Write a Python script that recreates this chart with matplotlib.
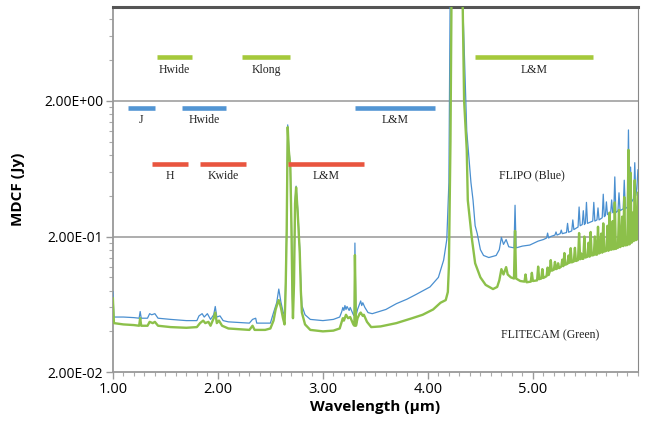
import matplotlib
matplotlib.use("Agg")
import matplotlib.pyplot as plt
from matplotlib.ticker import FixedLocator, MultipleLocator, NullFormatter

# FLIPO (blue) MDCF spectrum
blue_wl = [1.00, 1.01, 1.10, 1.20, 1.25, 1.26, 1.27, 1.33, 1.35, 1.37, 1.40, 1.43,
           1.55, 1.70, 1.80, 1.82, 1.85, 1.87, 1.90, 1.93, 1.96, 1.975, 1.99, 2.02,
           2.05, 2.10, 2.30, 2.33, 2.36, 2.37, 2.50, 2.53, 2.56, 2.58, 2.60, 2.62,
           2.635, 2.645, 2.655, 2.665, 2.675, 2.69, 2.70, 2.71, 2.715, 2.725, 2.735,
           2.745, 2.76, 2.78, 2.79, 2.80, 2.83, 2.88, 3.00, 3.10, 3.16, 3.18, 3.19,
           3.20, 3.21, 3.22, 3.23, 3.25, 3.26, 3.29, 3.30, 3.305, 3.315, 3.33, 3.35,
           3.36, 3.37, 3.38, 3.40, 3.43, 3.47, 3.60, 3.70, 3.80, 3.89, 4.02, 4.10,
           4.15, 4.18, 4.20, 4.212, 4.33, 4.37, 4.39, 4.41, 4.43, 4.45, 4.47, 4.50,
           4.53, 4.58, 4.65, 4.68, 4.70, 4.72, 4.745, 4.77, 4.82, 4.83, 4.84, 4.90,
           4.97, 5.05, 5.10, 5.13, 5.14, 5.15, 5.17, 5.21, 5.22, 5.23, 5.26, 5.27,
           5.28, 5.32, 5.33, 5.34, 5.37, 5.38, 5.39, 5.43, 5.44, 5.45, 5.47, 5.48,
           5.49, 5.50, 5.51, 5.52, 5.57, 5.58, 5.59, 5.61, 5.62, 5.63, 5.66, 5.67,
           5.68, 5.69, 5.70, 5.71, 5.74, 5.75, 5.76, 5.77, 5.78, 5.79, 5.81, 5.82,
           5.83, 5.86, 5.87, 5.88, 5.90, 5.91, 5.92, 5.93, 5.94, 5.96, 5.97, 5.98,
           5.99, 6.00]
blue_val = [0.078, 0.051, 0.051, 0.0505, 0.050, 0.056, 0.050, 0.050, 0.054, 0.053, 0.054, 0.050,
            0.049, 0.048, 0.048, 0.052, 0.054, 0.051, 0.054, 0.049, 0.053, 0.061, 0.051, 0.052,
            0.048, 0.047, 0.046, 0.049, 0.050, 0.046, 0.046, 0.055, 0.065, 0.082, 0.066, 0.056,
            0.052, 0.09, 0.23, 1.33, 0.90, 0.67, 0.26, 0.075, 0.055, 0.10, 0.36,
            0.47, 0.32, 0.16, 0.09, 0.062, 0.053, 0.049, 0.048, 0.049, 0.051, 0.056, 0.060,
            0.057, 0.062, 0.058, 0.061, 0.057, 0.060, 0.053, 0.052, 0.179, 0.052, 0.058, 0.064,
            0.067, 0.062, 0.065, 0.060, 0.055, 0.054, 0.058, 0.064, 0.069, 0.075, 0.085, 0.10,
            0.134, 0.19, 0.5, 12.0, 12.0, 1.2, 0.78, 0.5, 0.37, 0.24, 0.21, 0.16,
            0.145, 0.14, 0.145, 0.16, 0.197, 0.175, 0.19, 0.168, 0.165, 0.34, 0.165, 0.17,
            0.173, 0.185, 0.19, 0.195, 0.212, 0.195, 0.20, 0.205, 0.216, 0.205, 0.21, 0.223,
            0.21, 0.214, 0.25, 0.215, 0.22, 0.265, 0.225, 0.235, 0.33, 0.24, 0.245, 0.31,
            0.245, 0.25, 0.357, 0.25, 0.26, 0.357, 0.26, 0.265, 0.325, 0.265, 0.275, 0.41,
            0.28, 0.285, 0.36, 0.29, 0.295, 0.372, 0.30, 0.30, 0.55, 0.30, 0.31, 0.42,
            0.31, 0.32, 0.52, 0.32, 0.33, 1.22, 0.34, 0.65, 0.36, 0.38, 0.70, 0.40,
            0.45, 0.62]

# FLITECAM (green) MDCF spectrum
green_wl = [1.00, 1.01, 1.10, 1.20, 1.25, 1.26, 1.27, 1.33, 1.35, 1.38, 1.40, 1.43,
            1.55, 1.70, 1.80, 1.83, 1.86, 1.88, 1.91, 1.93, 1.96, 1.975, 1.99, 2.01,
            2.04, 2.10, 2.30, 2.33, 2.35, 2.45, 2.50, 2.53, 2.55, 2.57, 2.58, 2.60,
            2.62, 2.635, 2.645, 2.655, 2.665, 2.675, 2.69, 2.70, 2.71, 2.715, 2.725,
            2.735, 2.745, 2.76, 2.78, 2.79, 2.80, 2.83, 2.88, 3.00, 3.10, 3.16, 3.18,
            3.19, 3.20, 3.22, 3.24, 3.26, 3.29, 3.30, 3.305, 3.315, 3.33, 3.35, 3.36,
            3.38, 3.39, 3.42, 3.46, 3.55, 3.70, 3.85, 3.95, 4.05, 4.12, 4.17, 4.19,
            4.20, 4.215, 4.225, 4.33, 4.345, 4.37, 4.38, 4.42, 4.45, 4.50, 4.55, 4.62,
            4.66, 4.68, 4.70, 4.72, 4.745, 4.76, 4.79, 4.82, 4.83, 4.84,
            4.88, 4.92, 4.93, 4.94, 4.98, 4.99, 5.00, 5.04, 5.05, 5.06,
            5.08, 5.09, 5.10, 5.13, 5.14, 5.15, 5.16, 5.17, 5.18, 5.20,
            5.21, 5.22, 5.23, 5.24, 5.25, 5.27, 5.28, 5.29, 5.30, 5.31,
            5.33, 5.34, 5.35, 5.36, 5.37, 5.39, 5.40, 5.41, 5.43, 5.44,
            5.45, 5.46, 5.47, 5.48, 5.49, 5.50, 5.52, 5.53, 5.54, 5.55,
            5.56, 5.58, 5.59, 5.60, 5.61, 5.62, 5.63, 5.64, 5.65, 5.66,
            5.67, 5.68, 5.70, 5.71, 5.72, 5.73, 5.74, 5.75, 5.76, 5.77,
            5.78, 5.79, 5.80, 5.81, 5.82, 5.83, 5.84, 5.85, 5.86, 5.87,
            5.88, 5.89, 5.90, 5.91, 5.92, 5.93, 5.94, 5.95, 5.96, 5.97,
            5.98, 5.99, 6.00]
green_val = [0.070, 0.046, 0.045, 0.0445, 0.044, 0.050, 0.044, 0.044, 0.047, 0.046, 0.047, 0.044,
             0.043, 0.0425, 0.043, 0.046, 0.048, 0.046, 0.047, 0.044, 0.050, 0.055, 0.046, 0.048,
             0.044, 0.042, 0.041, 0.044, 0.041, 0.041, 0.042, 0.048, 0.058, 0.065, 0.068, 0.060,
             0.050, 0.045, 0.08, 0.21, 1.28, 0.87, 0.65, 0.25, 0.07, 0.05, 0.09,
             0.35, 0.46, 0.30, 0.15, 0.08, 0.055, 0.045, 0.041, 0.040, 0.0405, 0.042, 0.047,
             0.050, 0.048, 0.053, 0.050, 0.051, 0.045, 0.044, 0.146, 0.044, 0.050, 0.054, 0.055,
             0.052, 0.053, 0.047, 0.043, 0.0435, 0.046, 0.050, 0.053, 0.058, 0.065, 0.068, 0.078,
             0.12, 1.0, 12.0, 12.0, 2.0, 0.87, 0.37, 0.19, 0.127, 0.10, 0.088, 0.082,
             0.085, 0.095, 0.115, 0.105, 0.119, 0.105, 0.10, 0.098, 0.22, 0.098,
             0.094, 0.093, 0.105, 0.092, 0.093, 0.108, 0.094, 0.095, 0.12, 0.097,
             0.098, 0.115, 0.099, 0.102, 0.118, 0.104, 0.11, 0.134, 0.112, 0.114,
             0.13, 0.115, 0.116, 0.127, 0.117, 0.12, 0.135, 0.121, 0.151, 0.124,
             0.126, 0.145, 0.128, 0.164, 0.129, 0.131, 0.165, 0.132, 0.134, 0.212,
             0.136, 0.15, 0.137, 0.137, 0.20, 0.14, 0.142, 0.18, 0.142, 0.216,
             0.145, 0.146, 0.2, 0.147, 0.147, 0.236, 0.150, 0.152, 0.21, 0.152,
             0.25, 0.155, 0.157, 0.24, 0.157, 0.30, 0.16, 0.16, 0.26, 0.161,
             0.357, 0.162, 0.165, 0.165, 0.314, 0.167, 0.17, 0.28, 0.17, 0.39,
             0.172, 0.173, 0.173, 0.87, 0.175, 0.59, 0.18, 0.3, 0.185, 0.52,
             0.188, 0.19, 0.42]
assert len(blue_wl) == len(blue_val) and len(green_wl) == len(green_val)

# filter bands (wavelength range), per instrument row
band_names = ["Hwide", "Klong", "L&M", "J", "Hwide", "L&M", "H", "Kwide", "L&M"]
band_start = [1.42, 2.23, 4.45, 1.14, 1.66, 3.31, 1.37, 1.83, 2.67]
band_end = [1.75, 2.69, 5.57, 1.40, 2.08, 4.07, 1.72, 2.27, 3.39]
band_level = [4.2, 4.2, 4.2, 1.78, 1.78, 1.78, 0.69, 0.69, 0.69]
band_color = ["#a5c93b"] * 3 + ["#5295d3"] * 3 + ["#e9553f"] * 3

xtick_vals = [1, 2, 3, 4, 5]
xtick_labels = ["1.00", "2.00", "3.00", "4.00", "5.00"]
ytick_vals = [0.02, 0.2, 2.0]
ytick_labels = ["2.00E-02", "2.00E-01", "2.00E+00"]

sans = ["Open Sans", "DejaVu Sans"]
serif = ["Liberation Serif", "DejaVu Serif"]

fig = plt.figure(figsize=(6.45, 4.22), dpi=100)
ax = fig.add_axes([0.175, 0.118, 0.814, 0.865])

ax.plot(blue_wl, blue_val, color="#4a8fd0", lw=0.9, zorder=3)
ax.plot(green_wl, green_val, color="#8cc04a", lw=1.7, zorder=4)

for name, a, b, lev, c in zip(band_names, band_start, band_end, band_level, band_color):
    ax.plot([a, b], [lev, lev], color=c, lw=3.3, solid_capstyle="butt", zorder=5)
    ax.annotate(name, ((a + b) / 2, lev), xytext=(0, -9), textcoords="offset points",
                ha="center", va="center", fontsize=8.5, family=serif, color="#222222")

ax.text(4.99, 0.57, "FLIPO (Blue)", ha="center", va="center", fontsize=8.5,
        family=serif, color="#222222")
ax.text(5.16, 0.0375, "FLITECAM (Green)", ha="center", va="center", fontsize=8.5,
        family=serif, color="#222222")

ax.set_yscale("log")
ax.set_xlim(1.0, 6.0)
ax.set_ylim(0.02, 9.8)

ax.set_xticks(xtick_vals)
ax.set_xticklabels(xtick_labels, family=sans, fontsize=10.5)
ax.xaxis.set_minor_locator(MultipleLocator(0.1))
ax.set_yticks(ytick_vals)
ax.set_yticklabels(ytick_labels, family=sans, fontsize=10)
ax.yaxis.set_minor_locator(FixedLocator([m * k for m in (0.02, 0.2, 2.0) for k in range(2, 10)]))
ax.yaxis.set_minor_formatter(NullFormatter())

ax.tick_params(which="major", length=5, width=1, color="#999999", pad=2)
ax.tick_params(which="minor", length=3, width=0.8, color="#aaaaaa")

for v in [0.2, 2.0]:
    ax.axhline(v, color="#a0a0a0", lw=1.2, zorder=1)

ax.spines["top"].set_color("#555555")
ax.spines["top"].set_linewidth(2.2)
ax.spines["right"].set_color("#888888")
ax.spines["left"].set_color("#999999")
ax.spines["bottom"].set_color("#999999")
ax.spines["left"].set_linewidth(1.3)
ax.spines["bottom"].set_linewidth(1.3)

ax.set_xlabel("Wavelength (\u00b5m)", family=sans, fontsize=11, fontweight="bold", labelpad=2)
ax.set_ylabel("MDCF (Jy)", family=sans, fontsize=11, fontweight="bold", labelpad=14)

fig.savefig("out.png", dpi=100)
